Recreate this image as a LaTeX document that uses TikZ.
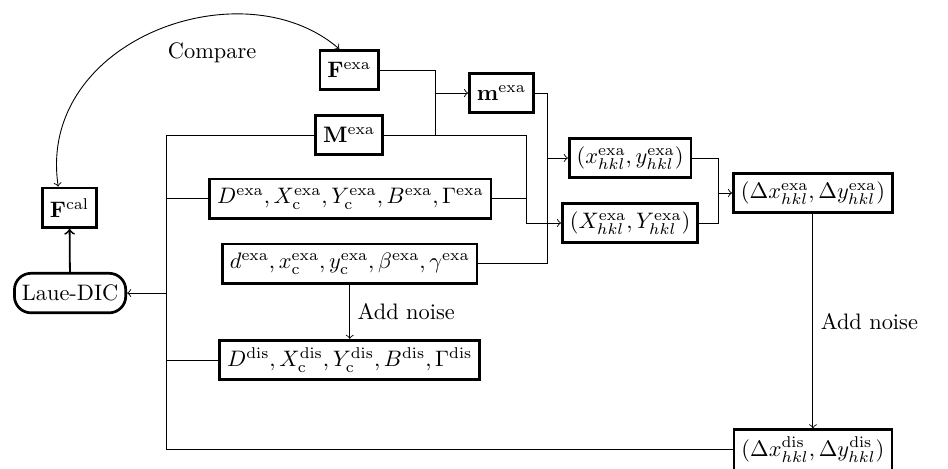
\documentclass[tikz,border=0pt]{standalone}
\usepackage{amsmath}
\usepackage{amssymb}
\usepackage{bm}
\usepackage{tikz}

\tikzset{
  blk/.style={draw, line width=1.2pt, minimum height=0.62cm},
  rblk/.style={blk, rounded corners=2.6mm},
}

\begin{document}
\begin{tikzpicture}
  \useasboundingbox (0,0) rectangle (14.88,7.36);

  \node[blk] (Fexa) at (5.48,6.26) {$\mathbf{F}^{\mathrm{exa}}$};
  \node[blk] (mexa) at (7.87,5.90) {$\mathbf{m}^{\mathrm{exa}}$};
  \node[blk] (Mexa) at (5.48,5.24) {$\mathbf{M}^{\mathrm{exa}}$};
  \node[blk] (Dexa) at (5.50,4.24) {$D^{\mathrm{exa}}, X_{\mathrm{c}}^{\mathrm{exa}}, Y_{\mathrm{c}}^{\mathrm{exa}}, B^{\mathrm{exa}}, \Gamma^{\mathrm{exa}}$};
  \node[blk] (dexa) at (5.49,3.22) {$d^{\mathrm{exa}}, x_{\mathrm{c}}^{\mathrm{exa}}, y_{\mathrm{c}}^{\mathrm{exa}}, \beta^{\mathrm{exa}}, \gamma^{\mathrm{exa}}$};
  \node[blk] (Ddis) at (5.49,1.71) {$D^{\mathrm{dis}}, X_{\mathrm{c}}^{\mathrm{dis}}, Y_{\mathrm{c}}^{\mathrm{dis}}, B^{\mathrm{dis}}, \Gamma^{\mathrm{dis}}$};
  \node[blk] (xhkl) at (9.89,4.88) {$(x_{hkl}^{\mathrm{exa}}, y_{hkl}^{\mathrm{exa}})$};
  \node[blk] (Xhkl) at (9.89,3.86) {$(X_{hkl}^{\mathrm{exa}}, Y_{hkl}^{\mathrm{exa}})$};
  \node[blk] (dxexa) at (12.76,4.33) {$(\Delta x_{hkl}^{\mathrm{exa}}, \Delta y_{hkl}^{\mathrm{exa}})$};
  \node[blk] (dxdis) at (12.76,0.30) {$(\Delta x_{hkl}^{\mathrm{dis}}, \Delta y_{hkl}^{\mathrm{dis}})$};
  \node[blk] (Fcal) at (1.09,4.10) {$\mathbf{F}^{\mathrm{cal}}$};
  \node[rblk] (Laue) at (1.10,2.76) {Laue-DIC};
  \node (cmp) at (3.33,6.53) {Compare};

  \coordinate (bus) at (2.62,0.30);
  \coordinate (jF) at (6.83,5.24);
  \coordinate (jX) at (8.27,4.24);
  \coordinate (jm) at (8.60,3.22);
  \coordinate (jd) at (11.27,3.86);

  % compare
  \draw[<->] (Fcal.118) .. controls +(-0.34,2.30) and +(-1.52,1.31) .. (Fexa.115);

  % left side
  \draw (Mexa.west) -| (bus) -- (dxdis.west);
  \draw (Dexa.west) -- (Dexa.west -| bus);
  \draw (Ddis.west) -- (Ddis.west -| bus);
  \draw[->] (Laue.east -| bus) -- (Laue.east);
  \draw[->, thick] (Laue) -- (Fcal);

  % right side
  \draw (Fexa.east) -| (jF);
  \draw[->] (mexa.west -| jF) -- (mexa.west);
  \draw[->] (Mexa.east) -| (jX) |- (Xhkl.west);
  \draw (Dexa.east) -- (jX);
  \draw (mexa.east) -| (jm);
  \draw (dexa.east) -- (jm);
  \draw[->] (xhkl.west -| jm) -- (xhkl.west);
  \draw (xhkl.east) -| (jd) -- (Xhkl.east);
  \draw[->] (dxexa.west -| jd) -- (dxexa.west);

  % noise
  \draw[->] (dexa) -- node[right] {Add noise} (Ddis);
  \draw[->] (dxexa) -- node[right] {Add noise} (dxdis);
\end{tikzpicture}
\end{document}
